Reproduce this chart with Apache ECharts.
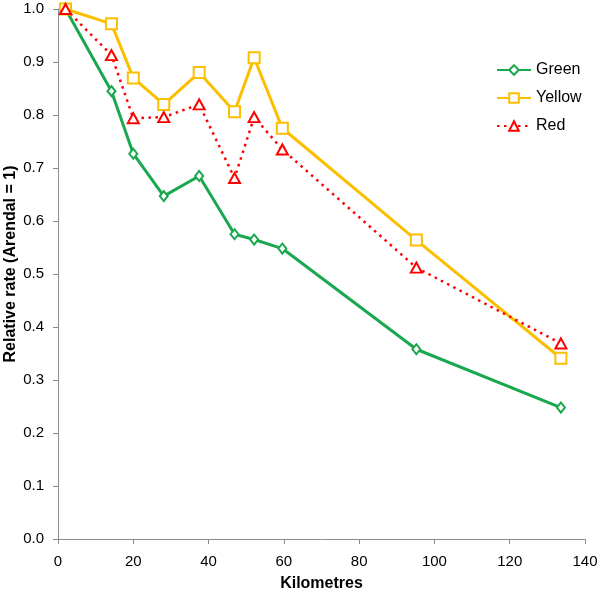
<!DOCTYPE html>
<html>
<head>
<meta charset="utf-8">
<script src="https://cdn.jsdelivr.net/npm/echarts@6/dist/echarts.min.js"></script>
<style>
html,body{margin:0;padding:0;background:#fff;}
#chart{width:600px;height:593px;}
</style>
</head>
<body>
<div id="chart"></div>
<script>
const kilometres = [2, 14.2, 20, 28.1, 37.5, 46.9, 52.1, 59.6, 95.2, 133.6];
const green  = [1.0, 0.845, 0.727, 0.647, 0.685, 0.575, 0.565, 0.548, 0.358, 0.248];
const yellow = [1.0, 0.972, 0.870, 0.820, 0.880, 0.806, 0.908, 0.775, 0.564, 0.341];
const red    = [1.0, 0.913, 0.794, 0.796, 0.820, 0.681, 0.796, 0.735, 0.512, 0.369];
const seriesNames = ['Green', 'Yellow', 'Red'];
const xTicks = [0, 20, 40, 60, 80, 100, 120, 140];
const yTicks = [0.0, 0.1, 0.2, 0.3, 0.4, 0.5, 0.6, 0.7, 0.8, 0.9, 1.0];

const FONT = '"Liberation Sans", Arial, Helvetica, sans-serif';
const pair = arr => kilometres.map((k, i) => [k, arr[i]]);

const chart = echarts.init(document.getElementById('chart'), null, {renderer: 'canvas'});
const axisCommon = {
  axisLine: {show: true, lineStyle: {color: '#8c8c8c', width: 1}},
  axisTick: {show: true, inside: false, length: 5, lineStyle: {color: '#8c8c8c'}},
  splitLine: {show: false},
  nameMoveOverlap: false
};
chart.setOption({
  animation: false,
  backgroundColor: '#fff',
  grid: {left: 58, right: 15, top: 9, bottom: 54, containLabel: false, outerBoundsMode: 'none'},
  legend: {
    orient: 'vertical',
    left: 491,
    top: 57,
    padding: 5,
    itemWidth: 34,
    itemHeight: 12,
    itemGap: 12,
    data: seriesNames,
    textStyle: {fontFamily: FONT, fontSize: 16, color: '#000', padding: [0, 0, 0, 0]}
  },
  xAxis: Object.assign({}, axisCommon, {
    type: 'value', min: xTicks[0], max: xTicks[xTicks.length - 1], interval: 20,
    name: 'Kilometres', nameLocation: 'middle', nameGap: 37,
    nameTextStyle: {fontFamily: FONT, fontSize: 16, fontWeight: 'bold', color: '#000'},
    axisLabel: {fontFamily: FONT, fontSize: 15, color: '#000', margin: 15}
  }),
  yAxis: Object.assign({}, axisCommon, {
    type: 'value', min: yTicks[0], max: yTicks[yTicks.length - 1], interval: 0.1,
    name: 'Relative rate (Arendal = 1)', nameLocation: 'middle', nameGap: 39,
    nameTextStyle: {fontFamily: FONT, fontSize: 16, fontWeight: 'bold', color: '#000', padding: [0, 0, 0, 20]},
    axisLabel: {fontFamily: FONT, fontSize: 15, color: '#000', margin: 14,
      formatter: v => v.toFixed(1)}
  }),
  series: [
    {
      name: seriesNames[0], type: 'line', data: pair(green),
      symbol: 'emptyDiamond', symbolSize: [8, 10],
      lineStyle: {color: '#1aa84f', width: 3},
      itemStyle: {color: '#1aa84f', borderWidth: 2}
    },
    {
      name: seriesNames[1], type: 'line', data: pair(yellow),
      symbol: 'emptyRect', symbolSize: 11,
      lineStyle: {color: '#fcbf00', width: 3},
      itemStyle: {color: '#fcbf00', borderWidth: 2}
    },
    {
      name: seriesNames[2], type: 'line', data: pair(red),
      symbol: 'emptyTriangle', symbolSize: [11, 10],
      lineStyle: {color: '#ff0000', width: 2.5, type: [2.5, 4.5]},
      itemStyle: {color: '#ff0000', borderWidth: 2}
    }
  ]
});
</script>
</body>
</html>
